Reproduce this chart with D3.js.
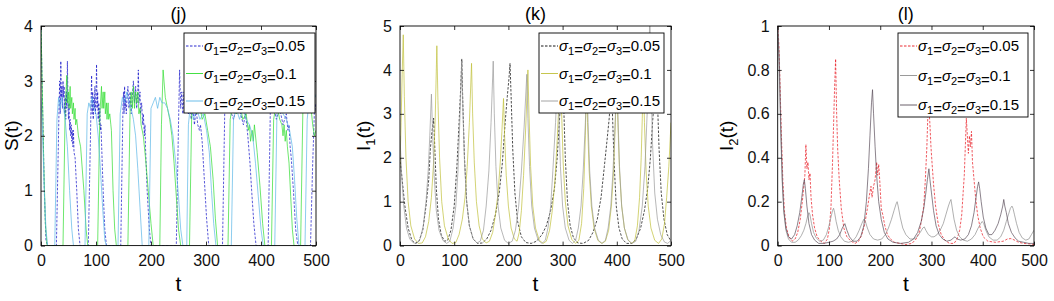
<!DOCTYPE html>
<html>
<head>
<meta charset="utf-8">
<script src="https://cdn.jsdelivr.net/npm/d3@7"></script>
<style>
  body { margin: 0; background: #fff; }
  text { font-family: "Liberation Sans", Arial, Helvetica, sans-serif; }
</style>
</head>
<body>
<svg id="fig" width="1054" height="301"></svg>
<script>
// ---- data: [t, value] ----
// (j) S(t)
var sSig005 = [[0,4],[3,2.5],[6,1],[9,0.1],[12,0],[28,0],[33,2.6],[34,3],[35,2.4],[36,3.36],[37,2.7],[38,2.9],[39,2.5],[40,3],[41,2.7],[42,2.9],[43,2.4],[44,2.7],[45,2.3],
  [46,2.8],[47,2.5],[48,3.36],[49,2.6],[50,2.3],[51,2.6],[52,2.1],[53,2.3],[54,2],[55,2.2],[56,1.9],[57,2.1],[58,1.8],[59,2.1],[60,1.7],[62,1.6],[65,1],[68,0.3],[71,0],
  [86,0],[90,2],[91,2.6],[92,3.1],[93,2.4],[94,2.8],[95,2.3],[96,2.7],[97,2.5],[98,2.9],[99,2.4],[100,2.7],[101,3.3],[102,2.5],[103,2.8],[104,2.3],[105,2.6],[106,2.2],
  [107,2.5],[108,2.1],[109,2.2],[110,1.9],[113,1],[116,0.3],[119,0],
  [145,0],[149,2.5],[150,2.8],[151,2.4],[152,2.9],[153,2.5],[154,2.7],[155,2.4],[156,2.6],[158,2.9],[160,2.5],[162,2.8],[164,2.4],[166,2.7],[168,3],[170,2.6],[172,2.9],
  [174,2.5],[176,2.8],[177,3.2],[178,2.6],[180,2.8],[181,2.4],[183,2.6],[185,2.2],[186,2.4],[188,2],[189,2.2],[190,1.8],[193,1],[197,0.3],[200,0],
  [246,0],[250,2.2],[252,3.2],[254,2.5],[256,2.8],[258,2.4],[260,2.8],[262,2.5],[265,2.7],[268,2.4],[270,2.7],[273,2.3],[276,2.5],[279,2.2],[282,2.5],[285,2.2],[288,2.1],
  [290,2.2],[293,1.9],[297,1.2],[301,0.5],[305,0],
  [330,0],[334,2.4],[337,2.7],[343,2.5],[350,2.3],[357,2.6],[363,2.4],[368,2.2],[372,2.4],[376,2],[380,1.5],[383,1],[387,0.4],[391,0],
  [413,0],[417,2.5],[422,2.6],[428,2.3],[434,2.5],[440,2.2],[446,2.4],[449,2.1],[451,2.2],[453,1.8],[455,1.6],[459,1],[463,0.3],[467,0],
  [490,0],[494,1.5],[497,2.4],[500,2.6]];
var sSig010 = [[0,4],[2,3],[5,1.5],[8,0.4],[11,0],[40,0],[44,2.5],[47,3.1],[48,2.6],[50,2.8],[51,2.5],[53,2.9],[54,2.5],[56,2.7],[57,2.4],[59,2.6],[60,2.3],[62,2.5],
  [63,2.2],[65,2.3],[68,2],[72,1.8],[78,1],[82,0.3],[85,0],
  [103,0],[107,2.4],[110,2.9],[111,2.5],[113,2.8],[114,2.5],[116,2.8],[117,2.4],[119,2.6],[120,2.3],[122,2.6],[123,2.3],[125,2.4],[127,2.2],[128,2.1],[131,1],[134,0.3],[137,0],
  [158,0],[162,2.5],[164,2.8],[166,2.5],[168,2.9],[170,2.5],[172,2.8],[174,2.6],[176,2.8],[178,2.4],[180,2.5],[182,2.2],[186,2],[190,1.6],[195,1],[200,0.4],[204,0],
  [216,0],[219,2.2],[222,3.2],[226,2.7],[230,2.5],[234,2.3],[238,2],[242,1.5],[246,0.9],[250,0.3],[254,0],
  [270,0],[274,2.4],[278,2.6],[283,2.4],[288,2.6],[293,2.3],[298,2.4],[303,2.1],[308,1.8],[313,1.2],[317,0.5],[321,0],
  [340,0],[344,2.3],[349,2.6],[355,2.4],[361,2.6],[367,2.3],[373,2.4],[377,2.1],[379,2.2],[381,1.9],[384,2.1],[386,1.9],[388,2.2],[393,1.7],[398,1.1],[403,0.4],[407,0],
  [419,0],[423,2.3],[428,2.6],[434,2.3],[438,2.2],[440,2],[442,2.2],[444,1.9],[446,2.1],[448,1.8],[451,1.5],[454,0.9],[457,0.3],[460,0],
  [472,0],[476,2.4],[481,2.8],[486,2.5],[490,2.6],[494,2.2],[497,2],[500,2.1]];
var sSig015 = [[0,2.7],[3,2],[6,1],[9,0.3],[12,0],[25,0],[29,2.3],[32,2.7],[35,2.5],[38,2.7],[41,2.5],[44,2.3],[48,1.8],[52,1],[56,0.3],[59,0],
  [80,0],[84,2.4],[87,2.6],[90,2.5],[93,2.7],[96,2.5],[100,2.4],[104,2],[108,1.4],[112,0.7],[116,0.1],[119,0],
  [140,0],[144,2.4],[148,2.7],[152,2.6],[156,2.8],[160,2.6],[164,2.5],[168,2.3],[172,2],[176,1.4],[180,0.7],[184,0],
  [196,0],[200,2.5],[204,2.6],[208,2.7],[212,2.5],[216,2.7],[220,2.6],[225,2.6],[230,2.5],[235,2.3],[240,2],[245,1.5],[250,0.9],[254,0.3],[258,0],
  [265,0],[268,2.2],[272,2.6],[277,2.3],[283,2.5],[289,2.3],[295,2.4],[301,2.1],[306,1.7],[310,1],[314,0.4],[318,0],
  [346,0],[350,2.3],[355,2.5],[361,2.3],[367,2.5],[373,2.3],[379,2.2],[385,2],[390,1.5],[395,0.9],[400,0.3],[404,0],
  [425,0],[429,2.4],[434,2.6],[440,2.4],[446,2.3],[452,2.1],[457,1.8],[461,1.2],[465,0.5],[469,0],
  [480,0],[484,2.3],[488,2.7],[492,2.6],[496,2.8],[500,2.7]];

// (k) I1(t)
var i1Sig005 = [[0,2],[4,1.5],[9,0.9],[15,0.4],[22,0.12],[28,0.05],[35,0.1],[42,0.35],[48,0.9],[53,1.5],[56,2.2],[59,2.6],[62,2.9],[64,2.3],[67,1.3],[71,0.6],[76,0.25],[82,0.1],
  [88,0.12],[94,0.35],[100,0.9],[105,1.8],[109,2.8],[112,3.6],[114,4.25],[116,3.2],[119,2],[123,1],[128,0.45],[135,0.15],[143,0.05],[152,0.06],[160,0.15],[168,0.35],
  [176,0.7],[183,1.2],[189,1.9],[194,2.8],[198,3.4],[201,3.8],[203,4.15],[205,3.4],[208,2.2],[212,1.2],[217,0.55],[224,0.2],[232,0.07],[242,0.05],[252,0.1],[262,0.25],
  [270,0.45],[278,0.8],[285,1.3],[290,2],[294,2.8],[297,3.5],[300,4],[302,3.2],[305,2],[309,1],[314,0.45],[320,0.18],[328,0.06],[338,0.05],[348,0.12],[356,0.3],
  [364,0.6],[371,1.1],[377,1.8],[382,2.4],[386,2.9],[390,3.7],[392,3],[395,1.9],[399,0.9],[404,0.4],[410,0.15],[418,0.05],[428,0.05],[436,0.15],[444,0.4],[451,0.8],
  [457,1.3],[462,2],[466,2.8],[470,3.5],[473,4.1],[475,3.3],[478,2.2],[482,1.2],[487,0.6],[493,0.25],[500,0.1]];
var i1Sig010 = [[0,1.8],[2,2.8],[4,3.9],[6,4.8],[8,3.4],[11,2],[15,1],[20,0.45],[27,0.15],[34,0.05],[41,0.06],[47,0.2],[53,0.55],[58,1.1],[62,1.9],[65,2.9],[68,4.55],
  [70,3.3],[73,2],[77,1],[82,0.45],[89,0.15],[96,0.05],[103,0.07],[109,0.25],[115,0.6],[120,1.1],[124,1.8],[128,2.8],[132,4.15],[134,3],[137,1.9],[141,1],[146,0.45],
  [152,0.15],[159,0.06],[165,0.1],[171,0.3],[176,0.7],[181,1.2],[185,1.9],[188,2.6],[191,3.35],[193,2.5],[196,1.6],[200,0.9],[205,0.4],[211,0.15],[216,0.1],[220,0.3],
  [224,0.8],[228,1.6],[232,2.7],[236,4],[238,3],[241,1.8],[245,0.9],[250,0.4],[257,0.12],[264,0.05],[270,0.1],[276,0.35],[281,0.8],[286,1.5],[290,2.4],[293,3.2],
  [296,4.2],[298,3.1],[301,1.9],[305,1],[310,0.45],[317,0.14],[324,0.05],[330,0.12],[335,0.5],[339,1.3],[342,2.5],[344,3.9],[346,2.8],[349,1.7],[353,0.9],[358,0.4],
  [365,0.12],[372,0.05],[379,0.1],[385,0.35],[390,0.9],[394,1.7],[397,2.7],[400,3.8],[402,2.8],[405,1.7],[409,0.9],[414,0.4],[420,0.14],[427,0.05],[433,0.1],[438,0.45],
  [442,1.1],[445,2],[447,2.9],[449,3.9],[451,2.8],[454,1.7],[458,0.9],[463,0.4],[470,0.12],[477,0.05],[483,0.15],[488,0.5],[492,1.1],[496,1.8],[500,2.8]];
var i1Sig015 = [[0,2.5],[3,1.6],[7,0.9],[12,0.4],[18,0.15],[25,0.06],[31,0.05],[37,0.15],[43,0.45],[48,1],[52,1.7],[55,2.5],[58,3.45],[60,2.6],[63,1.6],[67,0.8],
  [72,0.35],[79,0.12],[86,0.05],[92,0.1],[98,0.4],[103,0.9],[107,1.7],[110,2.7],[114,4.2],[116,3.1],[119,1.9],[123,1],[128,0.45],[135,0.15],[142,0.06],[148,0.1],
  [154,0.35],[159,0.9],[164,1.7],[168,2.8],[172,4.2],[174,3],[177,1.8],[181,0.9],[186,0.4],[193,0.12],[200,0.05],[207,0.1],[213,0.35],[219,0.9],[224,1.7],[229,2.7],
  [234,3.9],[236,2.9],[239,1.8],[243,0.9],[248,0.4],[255,0.12],[262,0.05],[268,0.12],[273,0.4],[278,0.9],[282,1.7],[287,2.8],[291,4],[293,3],[296,1.8],[300,0.9],
  [305,0.4],[312,0.12],[318,0.05],[324,0.12],[329,0.4],[334,0.9],[338,1.7],[342,2.8],[345,3.8],[347,2.8],[350,1.7],[354,0.9],[359,0.4],[366,0.12],[373,0.05],[379,0.12],
  [384,0.4],[389,0.9],[393,1.7],[397,2.8],[400,4],[402,3],[405,1.8],[409,0.9],[414,0.4],[421,0.12],[428,0.05],[435,0.1],[441,0.35],[447,0.9],[452,1.8],[456,3],
  [459,4.2],[461,5.3],[463,3.8],[466,2.3],[470,1.2],[475,0.6],[481,0.25],[488,0.08],[494,0.05],[500,0.12]];

// (l) I2(t)
var i2Sig005 = [[0,1],[2,0.93],[4,0.78],[7,0.52],[10,0.3],[13,0.16],[17,0.08],[22,0.04],[28,0.02],[34,0.03],[39,0.06],[44,0.12],[48,0.2],[51,0.27],[53,0.32],[55,0.46],
  [57,0.35],[59,0.38],[61,0.3],[63,0.33],[65,0.22],[68,0.14],[72,0.08],[77,0.04],[84,0.02],[91,0.01],[97,0.03],[101,0.08],[104,0.18],[107,0.38],[109,0.55],[111,0.72],
  [113,0.85],[115,0.6],[117,0.44],[120,0.3],[124,0.17],[129,0.08],[135,0.04],[143,0.02],[151,0.01],[158,0.02],[164,0.05],[170,0.1],[175,0.17],[179,0.23],[182,0.27],
  [184,0.22],[187,0.27],[190,0.3],[193,0.38],[195,0.32],[197,0.37],[199,0.3],[202,0.17],[205,0.14],[209,0.09],[214,0.05],[220,0.03],[228,0.015],[238,0.01],[250,0.005],
  [262,0.01],[270,0.03],[276,0.06],[281,0.12],[285,0.18],[288,0.3],[291,0.45],[293,0.6],[295,0.63],[297,0.55],[299,0.45],[301,0.38],[304,0.28],[308,0.18],[313,0.1],
  [319,0.05],[326,0.025],[335,0.01],[344,0.01],[350,0.03],[355,0.07],[359,0.14],[362,0.25],[364,0.32],[366,0.45],[368,0.58],[370,0.5],[372,0.42],[374,0.5],[376,0.45],
  [378,0.52],[380,0.38],[383,0.3],[386,0.22],[390,0.14],[395,0.08],[401,0.04],[410,0.02],[425,0.015],[440,0.02],[448,0.03],[455,0.032],[462,0.025],[470,0.015],
  [480,0.01],[490,0.008],[500,0.005]];
var i2Sig010 = [[0,1],[3,0.8],[6,0.5],[9,0.28],[12,0.15],[16,0.07],[21,0.03],[27,0.015],[34,0.015],[40,0.025],[46,0.045],[51,0.07],[55,0.1],[58,0.13],[61,0.15],[63,0.14],
  [66,0.1],[70,0.06],[75,0.035],[82,0.02],[89,0.025],[95,0.05],[100,0.09],[104,0.13],[107,0.16],[109,0.17],[111,0.15],[114,0.11],[118,0.07],[123,0.04],[130,0.02],
  [138,0.015],[146,0.02],[153,0.04],[159,0.07],[164,0.1],[168,0.12],[171,0.11],[175,0.08],[180,0.05],[187,0.03],[195,0.025],[203,0.03],[210,0.05],[216,0.08],[222,0.12],
  [227,0.16],[231,0.19],[233,0.2],[235,0.18],[239,0.13],[244,0.08],[250,0.05],[258,0.03],[266,0.03],[272,0.04],[278,0.06],[283,0.08],[286,0.085],[289,0.07],[294,0.05],
  [300,0.04],[305,0.04],[311,0.05],[317,0.07],[323,0.1],[328,0.14],[333,0.18],[336,0.2],[338,0.21],[340,0.18],[344,0.12],[349,0.07],[355,0.04],[362,0.025],[370,0.02],
  [378,0.03],[385,0.05],[391,0.08],[396,0.1],[399,0.11],[402,0.1],[406,0.07],[412,0.04],[420,0.025],[428,0.025],[435,0.04],[441,0.07],[446,0.11],[450,0.14],[454,0.17],
  [457,0.18],[459,0.17],[462,0.14],[466,0.1],[471,0.06],[477,0.035],[484,0.025],[490,0.03],[495,0.05],[500,0.07]];
var i2Sig015 = [[0,1],[3,0.85],[6,0.55],[9,0.3],[12,0.16],[16,0.08],[21,0.04],[27,0.03],[33,0.05],[38,0.09],[43,0.15],[47,0.22],[50,0.28],[52,0.3],[54,0.26],[57,0.18],
  [61,0.1],[66,0.05],[72,0.025],[80,0.01],[90,0.01],[100,0.015],[108,0.02],[115,0.03],[121,0.05],[126,0.08],[131,0.1],[135,0.07],[140,0.04],[147,0.02],[155,0.02],
  [162,0.04],[168,0.09],[173,0.2],[177,0.35],[180,0.5],[183,0.65],[185,0.71],[187,0.6],[190,0.45],[193,0.32],[197,0.2],[202,0.12],[208,0.06],[215,0.03],[225,0.015],
  [240,0.01],[255,0.015],[265,0.03],[273,0.06],[280,0.11],[285,0.17],[289,0.24],[292,0.3],[295,0.35],[297,0.3],[300,0.24],[304,0.16],[309,0.09],[315,0.05],[322,0.03],
  [330,0.02],[338,0.025],[343,0.035],[346,0.04],[350,0.03],[357,0.025],[365,0.03],[372,0.05],[378,0.09],[383,0.15],[387,0.22],[390,0.27],[392,0.29],[394,0.26],
  [397,0.2],[401,0.13],[406,0.08],[412,0.05],[418,0.05],[424,0.07],[430,0.1],[435,0.14],[439,0.18],[441,0.21],[443,0.18],[446,0.15],[450,0.1],[456,0.06],[463,0.035],
  [470,0.02],[480,0.015],[490,0.01],[500,0.01]];

var xTicks = [0, 100, 200, 300, 400, 500];
var sTicks = [0, 1, 2, 3, 4];
var i1Ticks = [0, 1, 2, 3, 4, 5];
var i2Ticks = [0, 0.2, 0.4, 0.6, 0.8, 1];
var sigmaLabels = ["0.05", "0.1", "0.15"];

var TOP = 26, BOTTOM = 245.6;

var panels = [
  {title: "(j)", ylab: ["S", null], ylabOff: 23, left: 41, right: 316, ymax: 4, yticks: sTicks,
   legend: {x: 184, y: 33, w: 131, h: 80},
   series: [{d: sSig005, c: "#1212c8", dash: "2.5,1.5"}, {d: sSig010, c: "#2fdc2f"}, {d: sSig015, c: "#5ab6e6"}]},
  {title: "(k)", ylab: ["I", "1"], ylabOff: 30, left: 400, right: 671, ymax: 5, yticks: i1Ticks,
   legend: {x: 539, y: 33, w: 125, h: 80},
   series: [{d: i1Sig005, c: "#000000", dash: "2.5,1.5"}, {d: i1Sig010, c: "#c0c03a"}, {d: i1Sig015, c: "#9a9a9a"}]},
  {title: "(l)", ylab: ["I", "2"], ylabOff: 45, left: 777.7, right: 1034, ymax: 1, yticks: i2Ticks,
   legend: {x: 898, y: 33, w: 130, h: 84},
   series: [{d: i2Sig005, c: "#e8141c", dash: "2.5,1.5"}, {d: i2Sig010, c: "#8e8e8e"}, {d: i2Sig015, c: "#5a4e5a"}]}
];

var svg = d3.select("#fig");

function sigmaText(sel, val) {
  var parts = [["σ", "1"], ["σ", "2"], ["σ", "3"]];
  parts.forEach(function(p, i) {
    sel.append("tspan").attr("font-style", "italic").attr("dy", i === 0 ? 0 : -4).text(p[0]);
    sel.append("tspan").attr("font-size", 11).attr("dy", 4).text(p[1]);
    sel.append("tspan").text("=");
  });
  sel.append("tspan").attr("dy", -4).text(val);
}

panels.forEach(function(p, pi) {
  var g = svg.append("g");
  var x = d3.scaleLinear().domain([0, 500]).range([p.left, p.right]);
  var y = d3.scaleLinear().domain([0, p.ymax]).range([BOTTOM, TOP]);

  var clipId = "clip" + pi;
  svg.append("clipPath").attr("id", clipId).append("rect")
    .attr("x", p.left).attr("y", TOP).attr("width", p.right - p.left).attr("height", BOTTOM - TOP);

  // lines
  var line = d3.line().x(function(d) { return x(d[0]); }).y(function(d) { return y(d[1]); });
  var lg = g.append("g").attr("clip-path", "url(#" + clipId + ")");
  p.series.forEach(function(s) {
    lg.append("path").attr("d", line(s.d)).attr("fill", "none")
      .attr("stroke", s.c).attr("stroke-width", 0.7)
      .attr("stroke-dasharray", s.dash || null);
  });

  // axes, ticks pointing inward
  var fmt = d3.format("~g");
  var ab = g.append("g").attr("transform", "translate(0," + BOTTOM + ")")
    .call(d3.axisBottom(x).tickValues(xTicks).tickSize(-4).tickPadding(9).tickFormat(fmt));
  var at = g.append("g").attr("transform", "translate(0," + TOP + ")")
    .call(d3.axisTop(x).tickValues(xTicks).tickSize(-4).tickFormat(""));
  var al = g.append("g").attr("transform", "translate(" + p.left + ",0)")
    .call(d3.axisLeft(y).tickValues(p.yticks).tickSize(-4).tickPadding(8).tickFormat(fmt));
  var ar = g.append("g").attr("transform", "translate(" + p.right + ",0)")
    .call(d3.axisRight(y).tickValues(p.yticks).tickSize(-4).tickFormat(""));
  [ab, at, al, ar].forEach(function(a) {
    a.select(".domain").remove();
    a.selectAll("line").attr("stroke", "#000").attr("stroke-width", 0.8);
    a.selectAll("text").attr("font-size", 16).attr("fill", "#111")
      .attr("font-family", "'Liberation Sans', Arial, sans-serif");
  });

  g.append("rect").attr("x", p.left).attr("y", TOP)
    .attr("width", p.right - p.left).attr("height", BOTTOM - TOP)
    .attr("fill", "none").attr("stroke", "#000").attr("stroke-width", 0.9);

  // title and labels
  var cx = (p.left + p.right) / 2;
  g.append("text").attr("x", cx).attr("y", 20).attr("text-anchor", "middle")
    .attr("font-size", 18).text(p.title);
  g.append("text").attr("x", cx).attr("y", 291).attr("text-anchor", "middle")
    .attr("font-size", 21).text("t");
  var yl = g.append("text").attr("text-anchor", "middle").attr("font-size", 19)
    .attr("transform", "translate(" + (p.left - p.ylabOff) + "," + ((TOP + BOTTOM) / 2) + ") rotate(-90)");
  yl.append("tspan").text(p.ylab[0]);
  if (p.ylab[1]) yl.append("tspan").attr("font-size", 13).attr("dy", 5).text(p.ylab[1]);
  yl.append("tspan").attr("dy", p.ylab[1] ? -5 : 0).text("(t)");

  // legend
  var L = p.legend;
  var lgd = g.append("g");
  lgd.append("rect").attr("x", L.x).attr("y", L.y).attr("width", L.w).attr("height", L.h)
    .attr("fill", "#fff").attr("stroke", "#000").attr("stroke-width", 0.9);
  p.series.forEach(function(s, i) {
    var ry = L.y + 13 + i * (L.h - 25) / 2;
    lgd.append("line").attr("x1", L.x + 2).attr("x2", L.x + 19).attr("y1", ry).attr("y2", ry)
      .attr("stroke", s.c).attr("stroke-width", 0.9).attr("stroke-dasharray", s.dash || null);
    var t = lgd.append("text").attr("x", L.x + 20).attr("y", ry + 5).attr("font-size", 15);
    sigmaText(t, sigmaLabels[i]);
  });
});
</script>
</body>
</html>
